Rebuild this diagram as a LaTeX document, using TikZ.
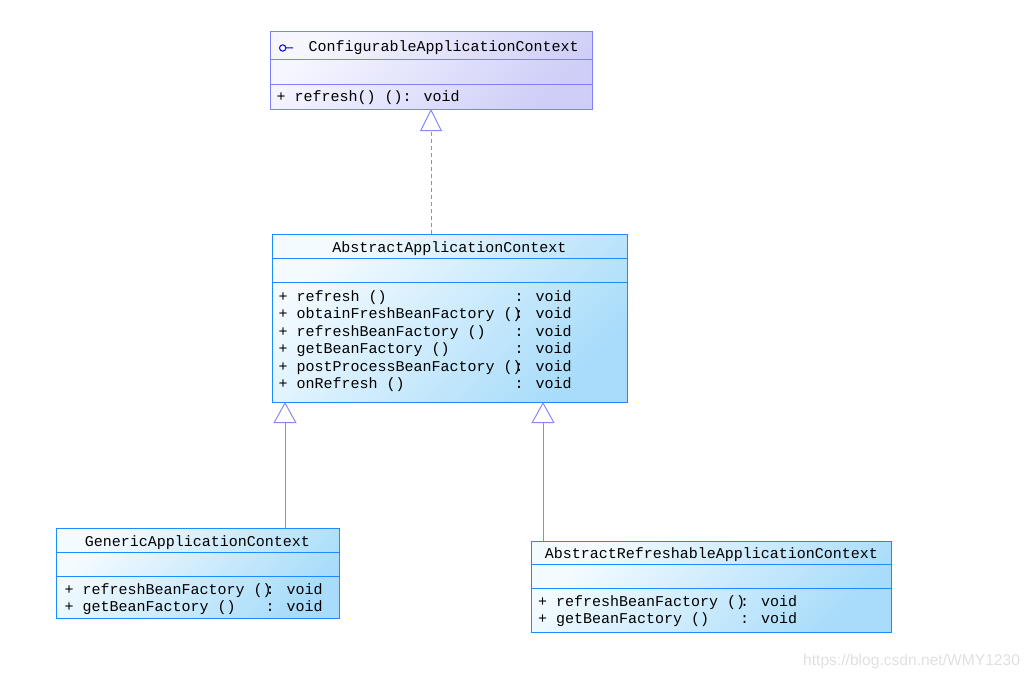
\documentclass[tikz,border=0pt]{standalone}
\usepackage{fontspec}
\usetikzlibrary{arrows.meta}
\newfontfamily\umlfont{Liberation Mono}
\newfontfamily\wmfont{Liberation Sans}
\newcommand\umltext{\umlfont\fontsize{15}{17}\selectfont}
\definecolor{ifaceborder}{RGB}{128,128,255}
\definecolor{ifacelight}{RGB}{246,246,255}
\definecolor{ifacedark}{RGB}{206,206,248}
\definecolor{classborder}{RGB}{26,140,255}
\definecolor{classlight}{RGB}{244,251,255}
\definecolor{classdark}{RGB}{168,220,250}
\definecolor{inhcolor}{RGB}{136,136,240}
\definecolor{iconblue}{RGB}{0,0,210}
\definecolor{wmgray}{RGB}{224,224,224}

\begin{document}
\begin{tikzpicture}[x=1pt,y=-1pt,
    iface/.style={draw=ifaceborder, line width=1pt, top color=ifacelight, bottom color=ifacedark, shading angle=45, anchor=north west, inner sep=0pt, outer sep=0pt},
    cls/.style={draw=classborder, line width=1pt, top color=classlight, bottom color=classdark, shading angle=45, anchor=north west, inner sep=0pt, outer sep=0pt},
    ifaceline/.style={draw=ifaceborder, line width=1pt},
    clsline/.style={draw=classborder, line width=1pt},
    cname/.style={anchor=base, inner sep=0pt, font=\umltext},
    member/.style={anchor=base west, inner sep=0pt, font=\umltext},
    realize/.style={draw=inhcolor, line width=1pt, dash pattern=on 4pt off 3pt, -{Triangle[open, length=22pt, width=22pt]}},
    extend/.style={draw=inhcolor, line width=1pt, -{Triangle[open, length=21pt, width=23pt]}}]
    \useasboundingbox (0,0) rectangle (1031,677);

    % interface
    \node[iface, minimum width=322pt, minimum height=77pt] (cac) at (270,32) {};
    \draw[ifaceline] (cac.west |- 0,60) -- (cac.east |- 0,60);
    \draw[ifaceline] (cac.west |- 0,84.5) -- (cac.east |- 0,84.5);
    \draw[iconblue, line width=1pt] (282.7,48) circle (3.2) (286,48) -- (293,48);
    \node[member] (cacName) at (308.5,52) {ConfigurableApplicationContext};
    \node[member] (cacM) at (276.5,102) {+ refresh() (): void};

    % abstract class
    \node[cls, minimum width=355pt, minimum height=168pt] (aac) at (272,234) {};
    \draw[clsline] (aac.west |- 0,258.5) -- (aac.east |- 0,258.5);
    \draw[clsline] (aac.west |- 0,282.5) -- (aac.east |- 0,282.5);
    \node[cname] (aacName) at (aac.north |- 0,252) {AbstractApplicationContext};
    \foreach \m [count=\i from 0] in {{refresh ()}, {obtainFreshBeanFactory ()}, {refreshBeanFactory ()}, {getBeanFactory ()}, {postProcessBeanFactory ()}, {onRefresh ()}} {
        \node[member] (aacM\i) at (278.5,{301+17.5*\i}) {+ \m};
        \node[member] (aacT\i) at (514.5,{301+17.5*\i}) {: void};
    }

    % subclasses
    \node[cls, minimum width=283pt, minimum height=90pt] (gac) at (56,528) {};
    \draw[clsline] (gac.west |- 0,552.5) -- (gac.east |- 0,552.5);
    \draw[clsline] (gac.west |- 0,576.5) -- (gac.east |- 0,576.5);
    \node[cname] (gacName) at (gac.north |- 0,546) {GenericApplicationContext};
    \foreach \m [count=\i from 0] in {{refreshBeanFactory ()}, {getBeanFactory ()}} {
        \node[member] (gacM\i) at (64.5,{594+17.5*\i}) {+ \m};
        \node[member] (gacT\i) at (265.5,{594+17.5*\i}) {: void};
    }

    \node[cls, minimum width=360pt, minimum height=91pt] (arac) at (531.5,541) {};
    \draw[clsline] (arac.west |- 0,564.5) -- (arac.east |- 0,564.5);
    \draw[clsline] (arac.west |- 0,588.5) -- (arac.east |- 0,588.5);
    \node[cname] (aracName) at (arac.north |- 0,558) {AbstractRefreshableApplicationContext};
    \foreach \m [count=\i from 0] in {{refreshBeanFactory ()}, {getBeanFactory ()}} {
        \node[member] (aracM\i) at (538,{606.5+17*\i}) {+ \m};
        \node[member] (aracT\i) at (740,{606.5+17*\i}) {: void};
    }

    % inheritance
    \coordinate (inhL) at (285,0);
    \coordinate (inhR) at (543,0);
    \draw[realize] (aac.north -| cac.south) -- (cac.south);
    \draw[extend] (gac.north -| inhL) -- (aac.south -| inhL);
    \draw[extend] (arac.north -| inhR) -- (aac.south -| inhR);

    \node[anchor=base west, inner sep=0pt, font=\wmfont\fontsize{15.6}{18}\selectfont, text=wmgray] (wm) at (803,665) {https://blog.csdn.net/WMY1230};
\end{tikzpicture}
\end{document}
